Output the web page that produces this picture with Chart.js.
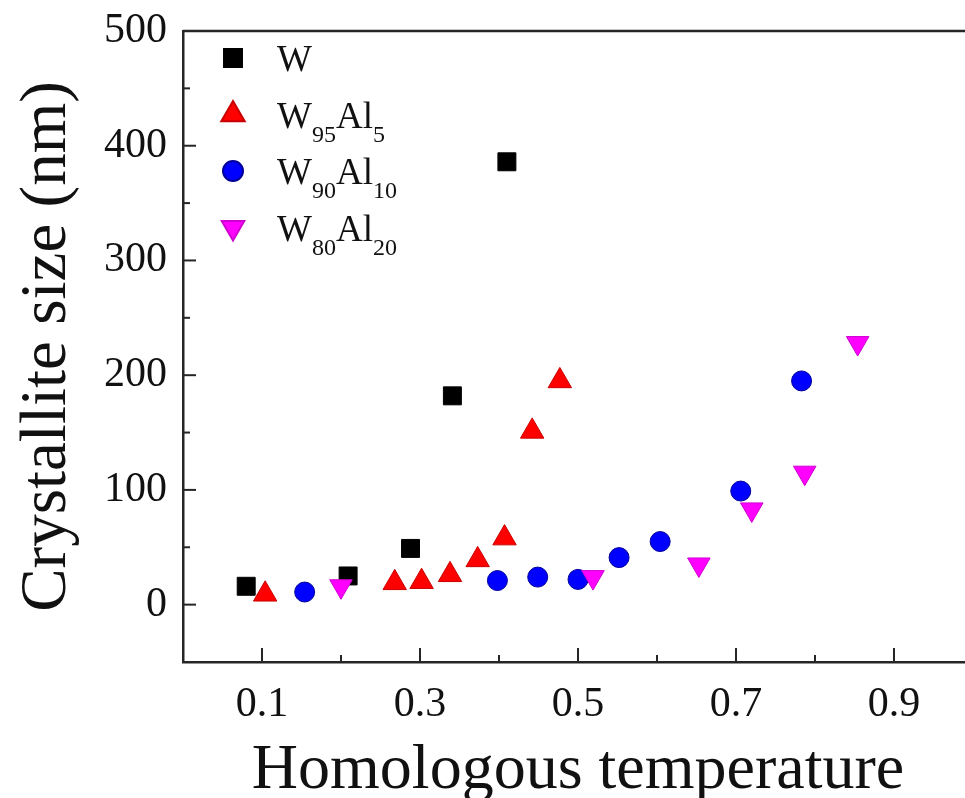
<!DOCTYPE html>
<html>
<head>
<meta charset="utf-8">
<title>Crystallite size vs homologous temperature</title>
<script src="https://cdn.jsdelivr.net/npm/chart.js@4.4.1/dist/chart.umd.min.js"></script>
<style>
  html, body { margin: 0; padding: 0; background: #fff; overflow: hidden; }
  /* the plot runs slightly past the right edge, so clip it here */
  #clip { position: relative; width: 965px; height: 798px; overflow: hidden; }
  #sizeChart { display: block; }
</style>
</head>
<body>
<div id="clip">
  <canvas id="sizeChart" width="975" height="798"></canvas>
</div>
<script>
// homologous temperature / crystallite size (nm) for each composition
const tempW = [0.080, 0.209, 0.288, 0.341, 0.410];
const sizeW = [16, 25, 49, 182, 386];

const tempW95Al5 = [0.104, 0.268, 0.302, 0.338, 0.373, 0.407, 0.442, 0.477];
const sizeW95Al5 = [9, 19, 20, 26, 39, 58, 151, 195];

const tempW90Al10 = [0.154, 0.398, 0.449, 0.500, 0.552, 0.604, 0.706, 0.783];
const sizeW90Al10 = [11, 21, 24, 22, 41, 55, 99, 195];

const tempW80Al20 = [0.200, 0.519, 0.653, 0.720, 0.787, 0.854];
const sizeW80Al20 = [16, 24, 35, 83, 115, 228];

// _{..} marks a subscript
const seriesLabels = ['W', 'W_{95}Al_{5}', 'W_{90}Al_{10}', 'W_{80}Al_{20}'];
const xTickLabels = ['0.1', '0.3', '0.5', '0.7', '0.9'];
const yTickLabels = ['0', '100', '200', '300', '400', '500'];

const AXIS_COLOR = '#262626';
const SERIF = "'Liberation Serif', 'Times New Roman', serif";

function toPoints(xs, ys) {
    return xs.map((x, i) => ({ x: x, y: ys[i] }));
}

// split "W_{95}Al_{5}" into normal and subscript runs
function splitLabel(label) {
    const parts = [];
    const re = /_\{([^}]*)\}|([^_]+)/g;
    let m;
    while ((m = re.exec(label)) !== null) {
        if (m[1] !== undefined) parts.push({ text: m[1], sub: true });
        else parts.push({ text: m[2], sub: false });
    }
    return parts;
}

// keep the plot area where layout.padding puts it (no extra room for edge labels)
function noEdgePadding(scale) {
    scale.paddingTop = 0;
    scale.paddingBottom = 0;
    scale.paddingLeft = 0;
    scale.paddingRight = 0;
}

// inward ticks, top/right frame and the legend with subscripts
const frameAndLegend = {
    id: 'frameAndLegend',
    afterDraw(chart) {
        const { ctx, chartArea: a, scales: { x, y } } = chart;
        ctx.save();
        ctx.strokeStyle = AXIS_COLOR;
        ctx.lineWidth = 2.5;
        ctx.beginPath();
        ctx.moveTo(a.left, a.top);
        ctx.lineTo(a.right, a.top);
        ctx.lineTo(a.right, a.bottom);
        ctx.stroke();

        ctx.lineWidth = 2;
        x.ticks.forEach(t => {
            const px = x.getPixelForValue(t.value);
            const len = xTickLabels.includes(t.value.toFixed(1)) ? 14 : 7;
            ctx.beginPath();
            ctx.moveTo(px, a.bottom);
            ctx.lineTo(px, a.bottom - len);
            ctx.stroke();
        });
        y.ticks.forEach(t => {
            const py = y.getPixelForValue(t.value);
            const len = yTickLabels.includes(String(t.value)) ? 13 : 7;
            ctx.beginPath();
            ctx.moveTo(a.left, py);
            ctx.lineTo(a.left + len, py);
            ctx.stroke();
        });

        // legend
        const markerX = a.left + 50;
        const textX = a.left + 94;
        chart.data.datasets.forEach((ds, i) => {
            const cy = a.top + 27 + i * 56.5;
            ctx.fillStyle = ds.backgroundColor;
            ctx.strokeStyle = ds.borderColor;
            Chart.helpers.drawPoint(ctx, {
                pointStyle: ds.pointStyle,
                radius: ds.pointRadius,
                rotation: ds.rotation || 0,
                borderWidth: ds.borderWidth
            }, markerX, cy);

            ctx.fillStyle = '#111';
            ctx.textBaseline = 'alphabetic';
            ctx.textAlign = 'left';
            let tx = textX;
            splitLabel(seriesLabels[i]).forEach(p => {
                ctx.font = (p.sub ? '24px ' : '37px ') + SERIF;
                ctx.fillText(p.text, tx, cy + 13 + (p.sub ? 14 : 0));
                tx += ctx.measureText(p.text).width;
            });
        });
        ctx.restore();
    }
};

Chart.defaults.font.family = SERIF;
Chart.defaults.color = '#111';

const ctx = document.getElementById('sizeChart').getContext('2d');
const sizeChart = new Chart(ctx, {
    type: 'scatter',
    data: {
        datasets: [
            {
                label: 'W',
                data: toPoints(tempW, sizeW),
                pointStyle: 'rect',
                pointRadius: 12.7,
                backgroundColor: '#000000',
                borderColor: '#000000',
                borderWidth: 1,
                order: 4
            },
            {
                label: 'W95Al5',
                data: toPoints(tempW95Al5, sizeW95Al5),
                pointStyle: 'triangle',
                pointRadius: 13.5,
                backgroundColor: '#ff0000',
                borderColor: '#c80000',
                borderWidth: 1,
                order: 3
            },
            {
                label: 'W90Al10',
                data: toPoints(tempW90Al10, sizeW90Al10),
                pointStyle: 'circle',
                pointRadius: 10,
                backgroundColor: '#0000ff',
                borderColor: '#00009a',
                borderWidth: 1,
                order: 2
            },
            {
                label: 'W80Al20',
                data: toPoints(tempW80Al20, sizeW80Al20),
                pointStyle: 'triangle',
                rotation: 180,
                pointRadius: 13,
                backgroundColor: '#ff00ff',
                borderColor: '#d000d0',
                borderWidth: 1,
                order: 1
            }
        ]
    },
    options: {
        responsive: false,
        animation: false,
        events: [],
        // autoPadding would reserve room for the marker radius on every side
        layout: { autoPadding: false, padding: { top: 31, right: 2, left: 0, bottom: 0 } },
        plugins: {
            legend: { display: false },
            tooltip: { enabled: false }
        },
        scales: {
            x: {
                type: 'linear',
                min: 0,
                max: 1,
                afterFit(scale) {
                    scale.height = 136;
                    noEdgePadding(scale);
                },
                grid: { display: false, drawTicks: false },
                border: { display: true, color: AXIS_COLOR, width: 2.5 },
                ticks: {
                    stepSize: 0.1,
                    autoSkip: false,
                    maxRotation: 0,
                    padding: 18,
                    font: { size: 42 },
                    callback(value) {
                        const s = value.toFixed(1);
                        return xTickLabels.includes(s) ? s : '';
                    }
                },
                title: {
                    display: true,
                    text: 'Homologous temperature',
                    font: { size: 64, lineHeight: 0.85 },
                    padding: { top: 0, bottom: 0 }
                }
            },
            y: {
                type: 'linear',
                min: -50,
                max: 500,
                afterFit(scale) {
                    scale.width = 183;
                    noEdgePadding(scale);
                },
                grid: { display: false, drawTicks: false },
                border: { display: true, color: AXIS_COLOR, width: 2.5 },
                ticks: {
                    stepSize: 50,
                    autoSkip: false,
                    padding: 16,
                    font: { size: 42 },
                    callback(value) {
                        const s = String(value);
                        return yTickLabels.includes(s) ? s : '';
                    }
                },
                title: {
                    display: true,
                    text: 'Crystallite size (nm)',
                    font: { size: 65, lineHeight: 1.0 },
                    padding: { top: 15, bottom: 0 }
                }
            }
        }
    },
    plugins: [frameAndLegend]
});
</script>
</body>
</html>
